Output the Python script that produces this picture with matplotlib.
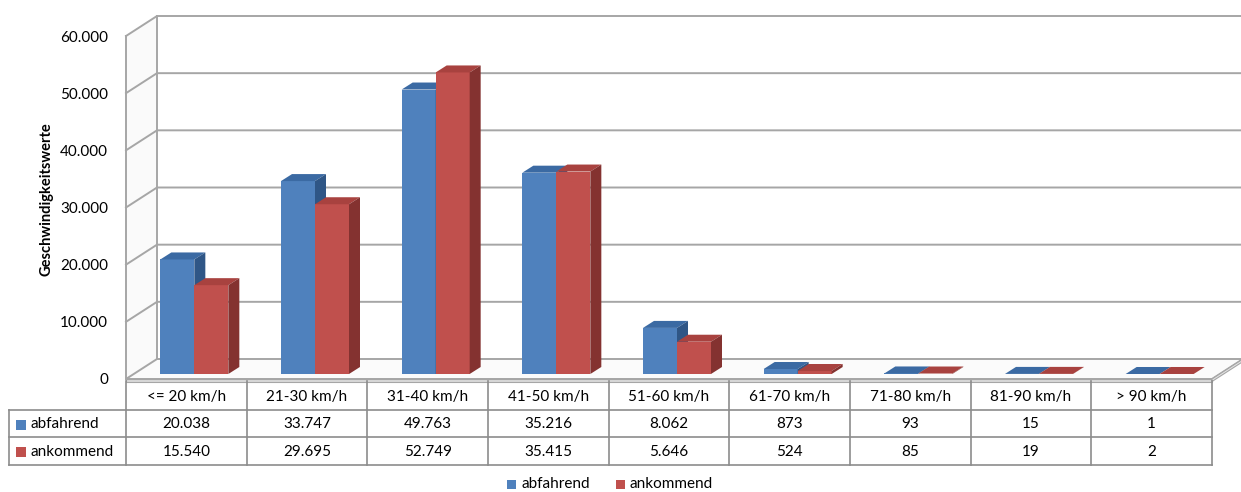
import matplotlib
matplotlib.use("Agg")
import matplotlib.pyplot as plt
from matplotlib.patches import Polygon, Rectangle

plt.rcParams['font.family'] = ['Lato', 'DejaVu Sans']

# ---------------- data ----------------
categories = ["<= 20 km/h", "21-30 km/h", "31-40 km/h", "41-50 km/h", "51-60 km/h",
              "61-70 km/h", "71-80 km/h", "81-90 km/h", "> 90 km/h"]
abfahrend = [20038, 33747, 49763, 35216, 8062, 873, 93, 15, 1]
ankommend = [15540, 29695, 52749, 35415, 5646, 524, 85, 19, 2]
series_names = ["abfahrend", "ankommend"]
y_ticks = [0, 10000, 20000, 30000, 40000, 50000, 60000]
y_label = "Geschwindigkeitswerte"

# ---------------- styles ----------------
front_cols = ["#4F81BD", "#C0504D"]
top_cols = ["#3B6AA3", "#A8423F"]
side_cols = ["#2F5686", "#843230"]
grid_col = "#A6A6A6"
table_col = "#8C8C8C"
txt_col = "#000000"

W, H = 1241, 492
fig = plt.figure(figsize=(W / 100, H / 100), dpi=100)
x_left, x_right = 126, 1212
y_top, y_bot = 36, 379
ax = fig.add_axes([x_left / W, 1 - y_bot / H, (x_right - x_left) / W, (y_bot - y_top) / H])
n = len(categories)
ax.set_xlim(-0.5, n - 0.5)
ax.set_ylim(0, 60000)
ax.axis('off')

pxx = (x_right - x_left) / n
pxy = (y_bot - y_top) / 60000.0


def ox(px):
    return px / pxx


def oy(px):
    return px / pxy


def ypx(p):  # pixel row (from top) -> data value
    return (y_bot - p) / pxy


dxw, dyw = ox(31), oy(20)
x0w, x1w = -0.5, n - 0.5

# left wall & back wall
ax.add_patch(Polygon([(x0w, 0), (x0w + dxw, dyw), (x0w + dxw, 60000 + dyw), (x0w, 60000)],
                     closed=True, facecolor="#FAFAFA", edgecolor="none", clip_on=False, zorder=0))
ax.plot([x0w, x0w], [0, 60000], color=grid_col, lw=1.4, clip_on=False, zorder=1)
ax.plot([x0w + dxw, x0w + dxw], [dyw, 60000 + dyw], color=grid_col, lw=1.4, clip_on=False, zorder=1)
for v in y_ticks[1:]:
    ax.plot([x0w, x0w + dxw, x1w + dxw + ox(2)], [v, v + dyw, v + dyw], color=grid_col, lw=1.4,
            clip_on=False, zorder=1)

# floor
ax.add_patch(Polygon([(x0w, 0), (x1w, 0), (x1w + dxw, dyw), (x0w + dxw, dyw)], closed=True,
                     facecolor="#FBFBFB", edgecolor=grid_col, lw=1.4, clip_on=False, zorder=1))
ax.add_patch(Polygon([(x0w, 0), (x1w, 0), (x1w, -oy(2.5)), (x0w, -oy(2.5))], closed=True,
                     facecolor="#D9D9D9", edgecolor=grid_col, lw=0.8, clip_on=False, zorder=1))
ax.add_patch(Polygon([(x1w, 0), (x1w + dxw, dyw), (x1w + dxw, dyw - oy(2.5)), (x1w, -oy(2.5))],
                     closed=True, facecolor="#E6E6E6", edgecolor=grid_col, lw=0.8, clip_on=False, zorder=1))

# tick labels
for v in y_ticks:
    ax.text(x0w - ox(18), v - oy(1.5), f"{v:,}".replace(",", "."), ha="right", va="center",
            fontsize=11, color=txt_col, clip_on=False)

# bars
bw = ox(34)
sx, sy = ox(8), oy(5)
dxb, dyb = ox(11), oy(7)
data = [abfahrend, ankommend]
z = 5
for i in range(n):
    for s in range(2):
        v = data[s][i]
        x0 = i - bw + s * bw + sx
        yb = sy
        ax.add_patch(Rectangle((x0, yb), bw, v, facecolor=front_cols[s], edgecolor="none", zorder=z))
        ax.add_patch(Polygon([(x0, yb + v), (x0 + bw, yb + v), (x0 + bw + dxb, yb + v + dyb),
                              (x0 + dxb, yb + v + dyb)], closed=True, facecolor=top_cols[s],
                             edgecolor="none", zorder=z))
        ax.add_patch(Polygon([(x0 + bw, yb), (x0 + bw + dxb, yb + dyb), (x0 + bw + dxb, yb + v + dyb),
                              (x0 + bw, yb + v)], closed=True, facecolor=side_cols[s],
                             edgecolor="none", zorder=z))
        z += 1

# data table
rows_px = [381, 410, 437, 465]
xl = x0w - ox(117)
for k in range(n + 1):
    ax.plot([x0w + k, x0w + k], [ypx(rows_px[0]), ypx(rows_px[3])], color=table_col, lw=1.2,
            clip_on=False, zorder=2)
for p in rows_px[1:]:
    ax.plot([xl, x1w], [ypx(p), ypx(p)], color=table_col, lw=1.2, clip_on=False, zorder=2)
ax.plot([xl, xl], [ypx(rows_px[1]), ypx(rows_px[3])], color=table_col, lw=1.2, clip_on=False, zorder=2)

hy = ypx((rows_px[0] + rows_px[1]) / 2 + 1)
for i, c in enumerate(categories):
    ax.text(i, hy, c, ha="center", va="center", fontsize=11, color=txt_col, clip_on=False)
for r in range(2):
    ry = ypx((rows_px[r + 1] + rows_px[r + 2]) / 2 + 1)
    for i in range(n):
        ax.text(i, ry, f"{data[r][i]:,}".replace(",", "."), ha="center", va="center",
                fontsize=11, color=txt_col, clip_on=False)
    ax.add_patch(Rectangle((xl + ox(7), ry - oy(5)), ox(10), oy(10), facecolor=front_cols[r],
                           edgecolor="none", clip_on=False))
    ax.text(xl + ox(21), ry, series_names[r], ha="left", va="center", fontsize=11,
            color=txt_col, clip_on=False)

# y label
fig.text(47 / W, 1 - 199 / H, y_label, rotation=90, ha="center", va="center", fontsize=10.5,
         fontweight="bold", color=txt_col)

# legend
ly = 484
for (sq_x, tx, r) in [(507, 522, 0), (616, 630, 1)]:
    fig.patches.append(Rectangle((sq_x / W, 1 - (ly + 4.5) / H), 9 / W, 9 / H, facecolor=front_cols[r],
                                 edgecolor="none", transform=fig.transFigure, figure=fig))
    fig.text(tx / W, 1 - ly / H, series_names[r], ha="left", va="center", fontsize=11, color=txt_col)

fig.savefig("out.png", dpi=100, facecolor="white")
